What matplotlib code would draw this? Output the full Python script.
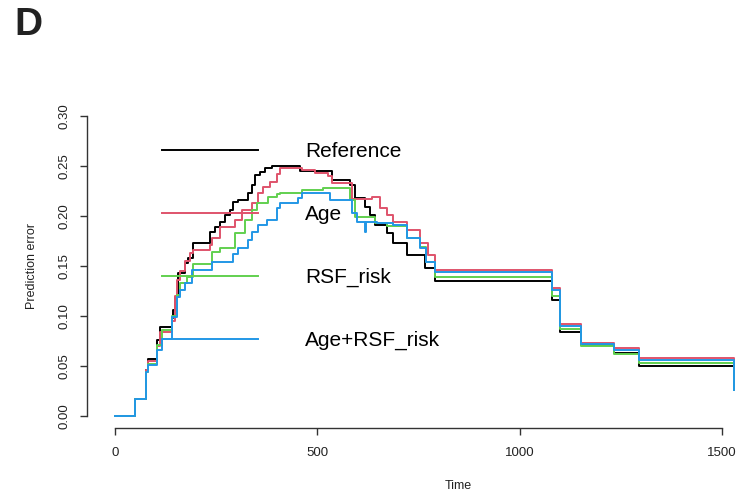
import numpy as np
import matplotlib.pyplot as plt

plt.rcParams['font.family'] = ['Liberation Sans', 'DejaVu Sans']

# step curves of prediction error (time in days)
ref_t = [0, 49, 77, 82, 104, 111, 141, 143, 148, 156, 173, 180, 193, 235, 247, 259,
         272, 284, 292, 304, 329, 339, 346, 358, 371, 388, 457, 536, 581, 593, 618,
         630, 642, 672, 687, 722, 766, 791, 1080, 1100, 1151, 1233, 1295, 1530]
ref_e = [0, 0.017, 0.046, 0.057, 0.076, 0.089, 0.098, 0.106, 0.119, 0.143, 0.153, 0.158,
         0.173, 0.184, 0.189, 0.194, 0.201, 0.206, 0.214, 0.216, 0.223, 0.231, 0.241,
         0.244, 0.248, 0.250, 0.245, 0.236, 0.231, 0.218, 0.209, 0.201, 0.191, 0.183,
         0.173, 0.161, 0.148, 0.135, 0.116, 0.084, 0.071, 0.063, 0.050, 0.026]

age_t = [0, 49, 77, 82, 104, 111, 141, 148, 153, 161, 173, 185, 193, 235, 240, 259,
         297, 314, 339, 353, 366, 383, 400, 408, 462, 494, 526, 536, 586, 635, 655,
         672, 687, 722, 754, 773, 791, 1080, 1100, 1151, 1233, 1295, 1530]
age_e = [0, 0.017, 0.046, 0.055, 0.070, 0.084, 0.095, 0.120, 0.136, 0.145, 0.155, 0.163,
         0.166, 0.171, 0.178, 0.189, 0.196, 0.206, 0.213, 0.223, 0.229, 0.234, 0.242,
         0.248, 0.246, 0.243, 0.240, 0.233, 0.217, 0.219, 0.208, 0.201, 0.194, 0.186,
         0.173, 0.161, 0.146, 0.128, 0.092, 0.073, 0.068, 0.058, 0.026]

rsf_t = [0, 49, 77, 82, 104, 116, 141, 153, 161, 178, 193, 240, 259, 297, 321, 339,
         351, 378, 400, 408, 462, 514, 581, 593, 642, 672, 722, 754, 769, 791, 1080,
         1100, 1151, 1233, 1295, 1530]
rsf_e = [0, 0.017, 0.044, 0.052, 0.071, 0.086, 0.100, 0.121, 0.133, 0.139, 0.152, 0.164,
         0.168, 0.183, 0.196, 0.206, 0.213, 0.219, 0.222, 0.223, 0.226, 0.228, 0.216,
         0.199, 0.193, 0.190, 0.178, 0.169, 0.154, 0.139, 0.120, 0.087, 0.070, 0.062,
         0.053, 0.026]

both_t = [0, 49, 77, 82, 104, 116, 141, 153, 161, 173, 190, 240, 292, 304, 329, 339,
          353, 376, 400, 408, 452, 462, 531, 586, 598, 618, 620, 647, 687, 722, 754,
          769, 791, 1080, 1100, 1151, 1233, 1295, 1530]
both_e = [0, 0.017, 0.044, 0.051, 0.066, 0.077, 0.099, 0.119, 0.126, 0.133, 0.146,
          0.154, 0.162, 0.168, 0.176, 0.184, 0.191, 0.196, 0.208, 0.213, 0.218, 0.223,
          0.216, 0.203, 0.194, 0.184, 0.194, 0.193, 0.191, 0.178, 0.168, 0.154, 0.144,
          0.126, 0.090, 0.072, 0.066, 0.056, 0.026]

labels = ['Reference', 'Age', 'RSF_risk', 'Age+RSF_risk']
colors = ['#000000', '#DF536B', '#61D04F', '#2297E6']
x_ticks = [0, 500, 1000, 1500]
y_ticks = [0.00, 0.05, 0.10, 0.15, 0.20, 0.25, 0.30]

W, H = 751, 491
fig = plt.figure(figsize=(W / 100, H / 100), dpi=100)
ax = fig.add_axes([87 / W, (H - 428) / H, (745 - 87) / W, (428 - 100) / H])

curves = [(ref_t, ref_e), (age_t, age_e), (rsf_t, rsf_e), (both_t, both_e)]
for (t, e), lab, col in zip(curves, labels, colors):
    ax.plot(t, e, drawstyle='steps-post', color=col, lw=1.4, label=lab)

ax.set_xlim(-69, 1557)
ax.set_ylim(-0.012, 0.316)

# R style axes: only left and bottom, limited to the tick range
for s in ['top', 'right']:
    ax.spines[s].set_visible(False)
ax.spines['left'].set_bounds(0, 0.3)
ax.spines['bottom'].set_bounds(0, 1500)
for s in ['left', 'bottom']:
    ax.spines[s].set_color('#333333')
    ax.spines[s].set_linewidth(1.0)

ax.set_xticks(x_ticks)
ax.set_xticklabels([str(v) for v in x_ticks])
ax.set_yticks(y_ticks)
ax.set_yticklabels(['%.2f' % v for v in y_ticks], rotation=90, va='center')
ax.tick_params(axis='both', direction='out', length=5, width=1.0, color='#333333',
               labelsize=9.5, labelcolor='#222222')
ax.tick_params(axis='x', pad=8.5)
ax.tick_params(axis='y', pad=7)

fig.text(32 / W, 1 - 266 / H, 'Prediction error', rotation=90, ha='center', va='center',
         fontsize=9, color='#222222')
fig.text(458 / W, 1 - 486 / H, 'Time', ha='center', va='center', fontsize=9, color='#222222')
fig.text(14 / W, 1 - 35 / H, 'D', ha='left', va='baseline', fontsize=28, weight='bold',
         color='#222222')

ax.legend(loc='upper left', bbox_to_anchor=(162 / W, 1 - 142 / H), bbox_transform=fig.transFigure,
          frameon=False, fontsize=15, handlelength=4.6, handletextpad=2.26, labelspacing=2.11,
          borderpad=0, borderaxespad=0)

fig.savefig('out.png', dpi=100)
